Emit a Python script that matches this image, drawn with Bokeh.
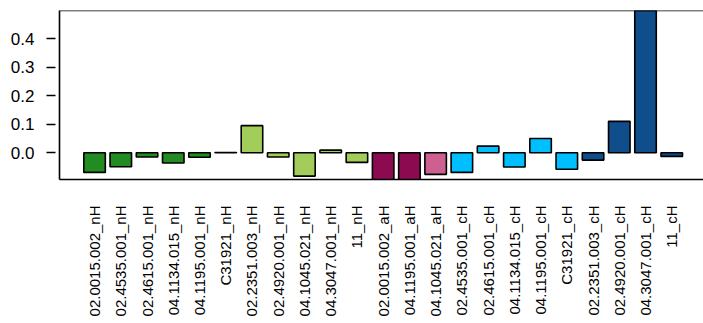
import math
from bokeh.plotting import figure
from bokeh.models import (ColumnDataSource, Range1d, FixedTicker, Span,
                          PrintfTickFormatter)
from bokeh.embed import file_html
from bokeh.resources import INLINE

# ---- data ----
categories = ["02.0015.002_nH", "02.4535.001_nH", "02.4615.001_nH", "04.1134.015_nH",
              "04.1195.001_nH", "C31921_nH", "02.2351.003_nH", "02.4920.001_nH",
              "04.1045.021_nH", "04.3047.001_nH", "11_nH",
              "02.0015.002_aH", "04.1195.001_aH", "04.1045.021_aH",
              "02.4535.001_cH", "02.4615.001_cH", "04.1134.015_cH", "04.1195.001_cH",
              "C31921_cH", "02.2351.003_cH", "02.4920.001_cH", "04.3047.001_cH", "11_cH"]
values = [-0.069, -0.049, -0.015, -0.036, -0.016, 0.001, 0.095, -0.015, -0.082, 0.009, -0.034,
          -0.10, -0.10, -0.076,
          -0.069, 0.023, -0.050, 0.050, -0.058, -0.026, 0.110, 0.52, -0.013]
groups = ["nH1"] * 6 + ["nH2"] * 5 + ["aH1"] * 2 + ["aH2"] * 1 + ["cH1"] * 5 + ["cH2"] * 4
yticks = [0.0, 0.1, 0.2, 0.3, 0.4]

palette = {"nH1": "#228B22", "nH2": "#A2CD5A", "aH1": "#8B0A50", "aH2": "#CD6090",
           "cH1": "#00BFFF", "cH2": "#104E8B"}

xs = list(range(len(categories)))
src = ColumnDataSource(dict(x=xs, top=values, color=[palette[g] for g in groups]))

FONT = "Liberation Sans"

p = figure(width=703, height=323, output_backend="svg", toolbar_location=None,
           x_range=Range1d(-1.336, 23.21), y_range=Range1d(-0.094, 0.499),
           min_border_left=59, min_border_right=0, min_border_top=10, min_border_bottom=144,
           x_axis_location="below")
p.outline_line_color = None
p.xgrid.visible = False
p.ygrid.visible = False
p.background_fill_color = "white"

p.vbar(x="x", top="top", bottom=0, width=0.82, source=src,
       fill_color="color", line_color="black", line_width=1.6)

# left axis: line is the left border, ticks detached
ya = p.yaxis[0]
ya.ticker = FixedTicker(ticks=yticks)
ya.formatter = PrintfTickFormatter(format="%.1f")
ya.axis_line_color = "black"
ya.axis_line_width = 1.6
ya.major_tick_in = -4
ya.major_tick_out = 13
ya.major_tick_line_width = 1.6
ya.minor_tick_line_color = None
ya.major_label_standoff = 12
ya.major_label_text_font = FONT
ya.major_label_text_font_size = "17px"
ya.major_label_text_color = "black"

# bottom axis: line is the bottom border, vertical labels
xa = p.xaxis[0]
xa.ticker = FixedTicker(ticks=xs)
xa.major_label_overrides = {i: c for i, c in zip(xs, categories)}
xa.axis_line_color = "black"
xa.axis_line_width = 1.6
xa.major_tick_in = 0
xa.major_tick_out = 0
xa.major_tick_line_color = None
xa.minor_tick_line_color = None
xa.major_label_orientation = math.pi / 2
xa.major_label_standoff = 26
xa.major_label_text_font = FONT
xa.major_label_text_font_size = "15px"
xa.major_label_text_color = "black"

# top border of the box (no right border, as in the reference)
p.add_layout(Span(location=p.y_range.end, dimension="width",
                  line_color="black", line_width=1.6))

open("out.html", "w").write(file_html(p, INLINE))
